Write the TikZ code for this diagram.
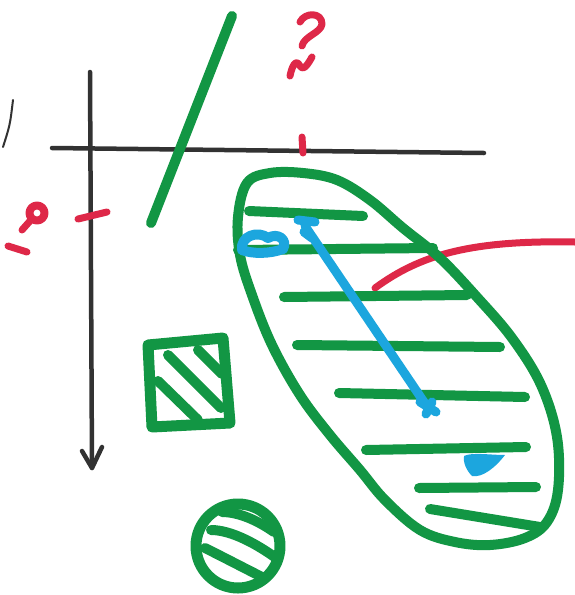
\documentclass[tikz,border=0pt]{standalone}
\usetikzlibrary{calc}
\definecolor{pgreen}{RGB}{18,150,68}
\definecolor{pblue}{RGB}{28,166,222}
\definecolor{pred}{RGB}{222,40,72}
\definecolor{pblack}{RGB}{50,50,50}
\tikzset{
  gpen/.style={draw=pgreen,line width=10pt,line cap=round,line join=round},
  bpen/.style={draw=pblue,line width=9pt,line cap=round,line join=round},
  rpen/.style={draw=pred,line width=7pt,line cap=round,line join=round},
  kpen/.style={draw=pblack,line width=4.5pt,line cap=round,line join=round},
}
\begin{document}
\begin{tikzpicture}[x=1pt,y=-1pt]
\useasboundingbox (0,0) rectangle (575,595);
\fill[white] (0,0) rectangle (575,595);
% black axes
\coordinate (vtop) at (90,72);
\coordinate (vbot) at (92,468);
\coordinate (hl) at (52,148);
\coordinate (hr) at (484,153);
\draw[kpen] (vtop) -- (vbot);
\draw[kpen] (82,451) -- (vbot) -- (102,447);
\draw[kpen] (hl) -- (hr);
\draw[draw=pblack,line width=2pt,line cap=round] (13,100) .. controls (10,125) .. (3,147);
% green slanted line
\draw[gpen] (232,16) -- (151,223);
% red marks
\draw[rpen] (302,137) -- (303,153);
\draw[rpen] (300,22) .. controls (305,12) and (322,12) .. (322,24) .. controls (321,33) and (304,36) .. (302,46);
\draw[rpen] (290,76) .. controls (292,66) and (296,58) .. (300,66) .. controls (304,72) and (309,62) .. (312,57);
\draw[rpen] (78,219) -- (107,212);
\draw[rpen,line width=8pt] (37,213) circle (7.5);
\draw[rpen] (30,221) -- (22,230);
\draw[rpen] (8,246) -- (27,252);
% red curve
\draw[rpen] (375,288) .. controls (420,255) and (470,240) .. (575,242);
% green ellipse-like loop
\draw[gpen] plot[smooth cycle,tension=0.6] coordinates {
 (238,217) (247,183) (270,173) (303,173) (337,180) (370,200) (403,228) (440,258) (476,296)
 (512,338) (541,385) (557,437) (558,490) (547,522) (525,538) (490,545) (455,542) (420,530)
 (385,500) (360,470) (330,435) (300,395) (272,345) (252,295) (240,255)};
% hatch lines in loop
\draw[gpen] (249,211) -- (363,216);
\draw[gpen] (238,250) -- (433,248);
\draw[gpen] (284,297) -- (467,295);
\draw[gpen] (297,345) -- (500,347);
\draw[gpen] (339,393) -- (525,397);
\draw[gpen] (366,450) -- (526,447);
\draw[gpen] (419,488) -- (536,487);
\draw[gpen] (430,509) -- (540,527);
% blue strokes
\draw[bpen] (305,226) -- (428,408);
\draw[bpen] (298,220) -- (315,222) (304,232) -- (312,238);
\draw[bpen] (420,402) -- (436,412) (426,414) -- (432,402);
\draw[bpen,line width=10pt] (242,250) .. controls (240,236) and (258,230) .. (268,238) .. controls (278,232) and (288,240) .. (283,249) .. controls (270,254) and (252,254) .. (242,250);
\fill[pblue] (464,456) .. controls (472,452) and (490,455) .. (505,455) .. controls (495,468) and (482,478) .. (472,476) .. controls (466,470) and (463,462) .. (464,456);
% green square
\draw[gpen,line width=11pt] (148,345) -- (223,338) -- (230,423) -- (152,427) -- cycle;
\draw[gpen] (168,355) -- (221,408);
\draw[gpen] (198,350) -- (222,374);
\draw[gpen] (158,381) -- (198,420);
% green circle
\draw[gpen,line width=11pt] (238,546) circle (42);
\draw[gpen] (222,512) .. controls (240,512) and (260,522) .. (274,532);
\draw[gpen] (211,530) .. controls (232,530) and (258,545) .. (276,558);
\draw[gpen] (205,548) .. controls (225,558) and (248,570) .. (264,578);
\end{tikzpicture}
\end{document}
